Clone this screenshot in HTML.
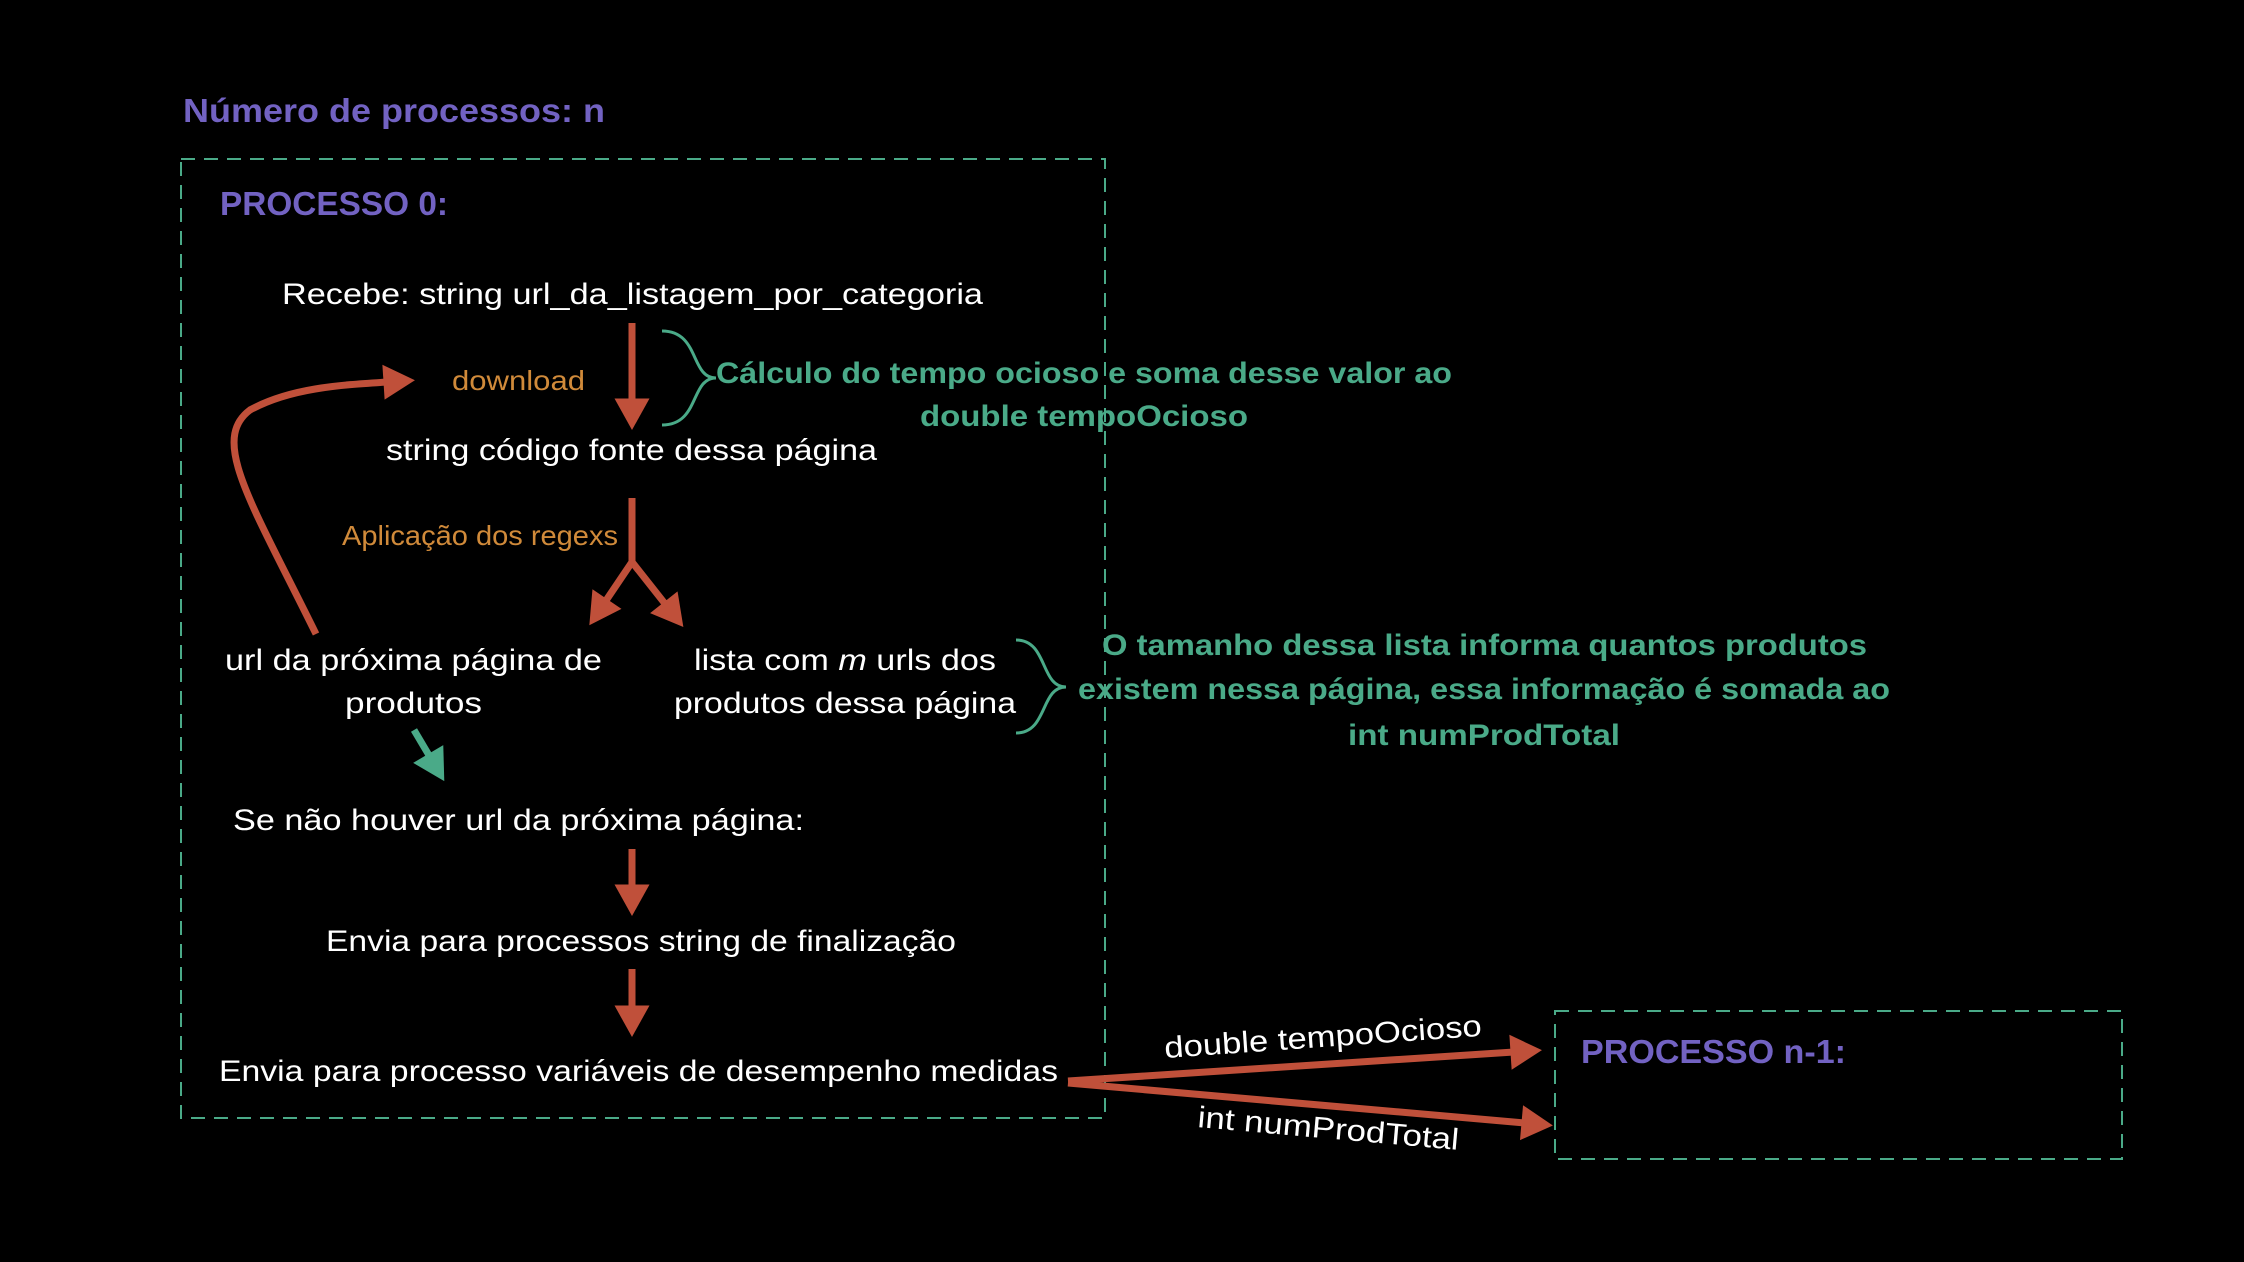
<!DOCTYPE html>
<html><head><meta charset="utf-8"><style>
html,body{margin:0;padding:0;background:#000;}
svg{display:block}
text{font-family:"Liberation Sans",sans-serif;}
.w{fill:#fff;font-size:30px}
.p{fill:#7262c2;font-size:33px;font-weight:bold}
.g{fill:#4aaa88;font-size:30px;font-weight:bold}
.o{fill:#d08a3a;font-size:28px}
</style></head><body>
<svg width="2244" height="1262" viewBox="0 0 2244 1262" xmlns="http://www.w3.org/2000/svg">
<defs>
<marker id="ar" markerWidth="5" markerHeight="5" refX="0.5" refY="2.5" orient="auto" markerUnits="strokeWidth" overflow="visible"><path d="M0,0 L4.5,2.5 L0,5 z" fill="#c0503a"/></marker>
<marker id="ag" markerWidth="5" markerHeight="5" refX="0.5" refY="2.5" orient="auto" markerUnits="strokeWidth" overflow="visible"><path d="M0,0 L4.5,2.5 L0,5 z" fill="#4aaa88"/></marker>
</defs>
<rect x="181" y="159" width="924" height="959" fill="none" stroke="#4aaa88" stroke-width="2" stroke-dasharray="14,9"/>
<rect x="1555" y="1011" width="567" height="148" fill="none" stroke="#4aaa88" stroke-width="2" stroke-dasharray="14,9"/>
<text class="p" x="183" y="122" textLength="422" lengthAdjust="spacingAndGlyphs">Número de processos: n</text>
<text class="p" x="220" y="215" textLength="228" lengthAdjust="spacingAndGlyphs">PROCESSO 0:</text>
<text class="p" x="1581" y="1063" textLength="265" lengthAdjust="spacingAndGlyphs">PROCESSO n-1:</text>
<text class="w" x="282" y="304" textLength="701" lengthAdjust="spacingAndGlyphs">Recebe: string url_da_listagem_por_categoria</text>
<line x1="632" y1="323" x2="632" y2="402" stroke="#c0503a" stroke-width="7" marker-end="url(#ar)"/>
<path d="M662,331 C700,331 690,378 716,378 C690,378 700,425 662,425" fill="none" stroke="#4aaa88" stroke-width="3"/>
<text class="g" x="716" y="383" textLength="736" lengthAdjust="spacingAndGlyphs">Cálculo do tempo ocioso e soma desse valor ao</text>
<text class="g" x="920" y="426" textLength="328" lengthAdjust="spacingAndGlyphs">double tempoOcioso</text>
<text class="o" x="452" y="390" textLength="133" lengthAdjust="spacingAndGlyphs">download</text>
<text class="w" x="386" y="460" textLength="491" lengthAdjust="spacingAndGlyphs">string código fonte dessa página</text>
<text class="o" x="342" y="545" textLength="276" lengthAdjust="spacingAndGlyphs">Aplicação dos regexs</text>
<line x1="632" y1="498" x2="632" y2="565" stroke="#c0503a" stroke-width="7"/>
<line x1="632" y1="562" x2="605" y2="602" stroke="#c0503a" stroke-width="7" marker-end="url(#ar)"/>
<line x1="632" y1="562" x2="666" y2="605" stroke="#c0503a" stroke-width="7" marker-end="url(#ar)"/>
<path d="M316,634 C250,500 210,440 250,410 C290,388 340,385 387,382" fill="none" stroke="#c0503a" stroke-width="7" marker-end="url(#ar)"/>
<text class="w" x="225" y="670" textLength="377" lengthAdjust="spacingAndGlyphs">url da próxima página de</text>
<text class="w" x="345" y="713" textLength="137" lengthAdjust="spacingAndGlyphs">produtos</text>
<text class="w" x="694" y="670" textLength="302" lengthAdjust="spacingAndGlyphs">lista com <tspan font-style="italic">m</tspan> urls dos</text>
<text class="w" x="674" y="713" textLength="342" lengthAdjust="spacingAndGlyphs">produtos dessa página</text>
<path d="M1016,640 C1048,640 1040,687 1066,687 C1040,687 1048,733 1016,733" fill="none" stroke="#4aaa88" stroke-width="3"/>
<text class="g" x="1102" y="655" textLength="765" lengthAdjust="spacingAndGlyphs">O tamanho dessa lista informa quantos produtos</text>
<text class="g" x="1078" y="699" textLength="812" lengthAdjust="spacingAndGlyphs">existem nessa página, essa informação é somada ao</text>
<text class="g" x="1348" y="745" textLength="272" lengthAdjust="spacingAndGlyphs">int numProdTotal</text>
<line x1="414" y1="730" x2="430" y2="757" stroke="#4aaa88" stroke-width="7" marker-end="url(#ag)"/>
<text class="w" x="233" y="830" textLength="571" lengthAdjust="spacingAndGlyphs">Se não houver url da próxima página:</text>
<line x1="632" y1="849" x2="632" y2="888" stroke="#c0503a" stroke-width="7" marker-end="url(#ar)"/>
<text class="w" x="326" y="951" textLength="630" lengthAdjust="spacingAndGlyphs">Envia para processos string de finalização</text>
<line x1="632" y1="969" x2="632" y2="1009" stroke="#c0503a" stroke-width="7" marker-end="url(#ar)"/>
<text class="w" x="219" y="1081" textLength="839" lengthAdjust="spacingAndGlyphs">Envia para processo variáveis de desempenho medidas</text>
<line x1="1068" y1="1081" x2="1514" y2="1052" stroke="#c0503a" stroke-width="7" marker-end="url(#ar)"/>
<line x1="1068" y1="1083" x2="1525" y2="1123" stroke="#c0503a" stroke-width="7" marker-end="url(#ar)"/>
<text class="w" transform="translate(1165,1058) rotate(-4)" textLength="318" lengthAdjust="spacingAndGlyphs">double tempoOcioso</text>
<text class="w" transform="translate(1197,1127) rotate(5)" textLength="262" lengthAdjust="spacingAndGlyphs">int numProdTotal</text>
</svg>
</body></html>
